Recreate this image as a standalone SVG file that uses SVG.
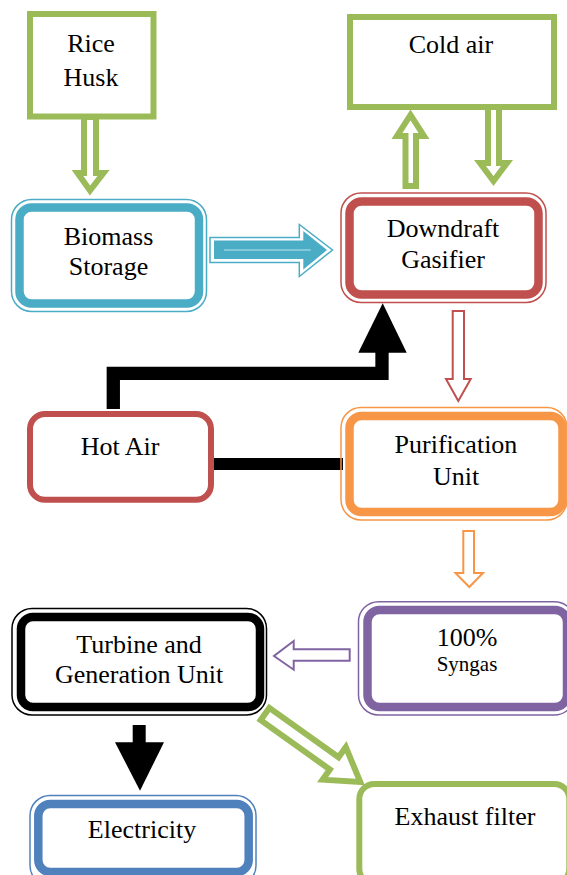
<svg xmlns="http://www.w3.org/2000/svg" width="567" height="875" viewBox="0 0 567 875">
<style>
text{font-family:'Liberation Serif','DejaVu Serif','Times New Roman',serif;font-size:26px;fill:#000;text-anchor:middle}
.sm{font-size:21px}
.gh{fill:#fff;stroke:#9BBB59;stroke-width:6;stroke-linejoin:miter}
.g{fill:#fff;stroke:#9BBB59;stroke-width:6}
.thin{fill:none;stroke-width:1.5}
.thick{fill:#fff;stroke-width:8.5}
</style>
<rect width="567" height="875" fill="#fff"/>
<g id="connectors">
  <polygon class="gh" points="84,117 96,117 96,173 103.5,173 90,190.5 77.5,173 84,173"/>
  <polygon class="gh" points="405.5,186 416,186 416,136 424,136 410.5,115 397,136 405.5,136"/>
  <polygon class="gh" points="488,107 499,107 499,163 507,163 493.5,181 480,163 488,163"/>
  <polygon points="210,237.4 299.3,237.4 299.3,224.5 332.5,250 299.3,276.5 299.3,262.6 210,262.6" fill="#fff" stroke="#4BACC6" stroke-width="1.5"/>
  <polygon points="214,240.5 303.3,240.5 303.3,231 327,250 303.3,269.5 303.3,259 214,259" fill="#4BACC6"/>
  <line x1="224" y1="250" x2="310.7" y2="250" stroke="#BFE3EC" stroke-width="1.2"/>
  <path d="M113.3,409 V373.3 H382 V350" fill="none" stroke="#000" stroke-width="13.3" stroke-linejoin="miter"/>
  <polygon points="358.3,352.7 406.7,352.7 382.7,303.3" fill="#000"/>
  <line x1="211" y1="464" x2="343" y2="464" stroke="#000" stroke-width="12"/>
  <polygon points="452.7,311 464,311 464,379 470.7,379 458.3,401 446,379 452.7,379" fill="#fff" stroke="#C0504D" stroke-width="2"/>
  <polygon points="463.3,531 474,531 474,573 483,573 469.3,587 455.5,573 463.3,573" fill="#fff" stroke="#F79646" stroke-width="2"/>
  <polygon points="349.7,649.3 349.7,660.7 293.7,660.7 293.7,669.7 274,656 293.7,641 293.7,649.3" fill="#fff" stroke="#8064A2" stroke-width="2"/>
  <rect x="132.7" y="725" width="13" height="18" fill="#000"/>
  <polygon points="115,742.3 164,742.3 140,790.7" fill="#000"/>
  <polygon class="gh" transform="translate(265,714) rotate(35.5)" points="0,-7.5 85,-7.5 85,-20 117,0 85,20 85,7.5 0,7.5"/>
</g>
<g id="rice-husk">
  <rect x="30" y="14" width="123.5" height="102.5" class="g"/>
  <text x="91" y="52" font-family="Liberation Serif, serif">Rice</text>
  <text x="91" y="86" font-family="Liberation Serif, serif">Husk</text>
</g>
<g id="cold-air">
  <rect x="350" y="17" width="204" height="90" class="g"/>
  <text x="451" y="53">Cold air</text>
</g>
<g id="biomass-storage">
  <rect x="11.5" y="199.5" width="195" height="112" rx="20" class="thin" stroke="#4BACC6"/>
  <rect x="19.5" y="207.5" width="179.5" height="96" rx="12" class="thick" stroke="#4BACC6"/>
  <text x="108.5" y="245">Biomass</text>
  <text x="108.5" y="275">Storage</text>
</g>
<g id="downdraft-gasifier">
  <rect x="341" y="193" width="205" height="109.5" rx="20" class="thin" stroke="#C0504D"/>
  <rect x="349.5" y="201.5" width="189" height="93" rx="12" class="thick" stroke="#C0504D"/>
  <text x="443" y="237">Downdraft</text>
  <text x="443" y="268">Gasifier</text>
</g>
<g id="hot-air">
  <rect x="30" y="414" width="181" height="85.7" rx="15" fill="#fff" stroke="#C0504D" stroke-width="6"/>
  <text x="120" y="455">Hot Air</text>
</g>
<g id="purification-unit">
  <rect x="341" y="407.5" width="226" height="112.5" rx="20" class="thin" stroke="#F79646"/>
  <rect x="349.5" y="416" width="213" height="96" rx="12" class="thick" stroke="#F79646"/>
  <text x="456" y="453">Purification</text>
  <text x="456" y="485">Unit</text>
</g>
<g id="syngas">
  <rect x="358.5" y="601.7" width="216" height="113.3" rx="20" class="thin" stroke="#8064A2"/>
  <rect x="367.5" y="610" width="199.5" height="97" rx="12" class="thick" stroke="#8064A2"/>
  <text x="467" y="646">100%</text>
  <text x="467" y="671" class="sm">Syngas</text>
</g>
<g id="turbine">
  <rect x="12" y="608.5" width="254.5" height="106.5" rx="20" class="thin" stroke="#000"/>
  <rect x="21" y="617" width="239" height="90" rx="12" class="thick" stroke="#000"/>
  <text x="139" y="653">Turbine and</text>
  <text x="139" y="683">Generation Unit</text>
</g>
<g id="electricity">
  <rect x="30" y="795.5" width="226" height="90" rx="20" class="thin" stroke="#4F81BD"/>
  <rect x="38.3" y="804" width="210.4" height="68" rx="12" class="thick" stroke="#4F81BD"/>
  <text x="142" y="838">Electricity</text>
</g>
<g id="exhaust-filter">
  <rect x="359.3" y="784" width="210" height="100" rx="15" fill="#fff" stroke="#9BBB59" stroke-width="6"/>
  <text x="465" y="825">Exhaust filter</text>
</g>
</svg>
